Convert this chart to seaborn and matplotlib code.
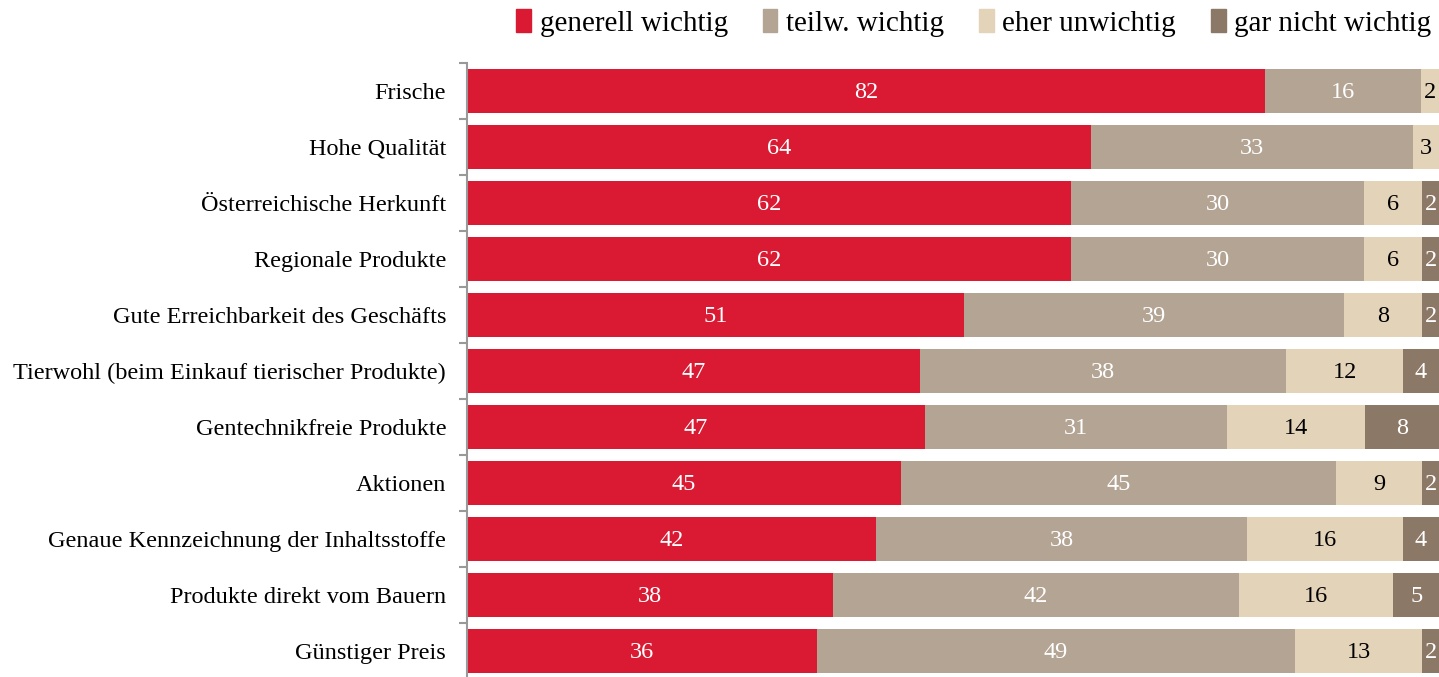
import seaborn as sns
import matplotlib.pyplot as plt
import matplotlib.patches as mpatches
from matplotlib.ticker import FixedLocator
import numpy as np
import pandas as pd

categories = ["Frische", "Hohe Qualität", "Österreichische Herkunft", "Regionale Produkte",
              "Gute Erreichbarkeit des Geschäfts", "Tierwohl (beim Einkauf tierischer Produkte)",
              "Gentechnikfreie Produkte", "Aktionen", "Genaue Kennzeichnung der Inhaltsstoffe",
              "Produkte direkt vom Bauern", "Günstiger Preis"]
series = ["generell wichtig", "teilw. wichtig", "eher unwichtig", "gar nicht wichtig"]

generell = [82.1, 64.2, 62.1, 62.1, 51.1, 46.6, 47.1, 44.6, 42.1, 37.7, 36.0]
teilw = [16.0, 33.1, 30.2, 30.2, 39.1, 37.7, 31.1, 44.8, 38.1, 41.7, 49.2]
eher = [1.9, 2.8, 6.0, 6.0, 8.1, 12.0, 14.2, 8.9, 16.1, 15.9, 13.1]
gar_nicht = [0.0, 0.0, 1.7, 1.7, 1.7, 3.7, 7.7, 1.7, 3.7, 4.7, 1.7]

colors = ["#DA1A32", "#B3A494", "#E3D3B8", "#8C7866"]
text_colors = ["white", "white", "black", "white"]

plt.rcParams["font.family"] = ["Liberation Serif", "DejaVu Serif"]

df = pd.DataFrame({"cat": categories, series[0]: generell, series[1]: teilw,
                   series[2]: eher, series[3]: gar_nicht})
vals = df[series].to_numpy()
cum = vals.cumsum(axis=1)

fig = plt.figure(figsize=(14.39, 6.77), dpi=100)
ax = fig.add_axes([467 / 1439, -0.003, 1 - 467 / 1439, 0.91])

# draw cumulative totals from the widest down so the stack shows through
for i in range(3, -1, -1):
    sns.barplot(x=cum[:, i], y=df["cat"], orient="h", color=colors[i],
                width=0.79, saturation=1, ax=ax, linewidth=0)

for r in range(len(categories)):
    for i in range(4):
        v = vals[r, i]
        if v <= 0:
            continue
        xc = cum[r, i] - v / 2
        ax.text(xc, r + 0.03, f"{v:.0f}", ha="center", va="center", fontsize=17.5,
                color=text_colors[i])

ax.set_xlim(0, 100)
ax.set_ylim(len(categories) - 0.5, -0.5)
ax.set_xlabel("")
ax.set_ylabel("")
ax.xaxis.set_visible(False)
for s in ["top", "right", "bottom"]:
    ax.spines[s].set_visible(False)
ax.spines["left"].set_color("#999999")
ax.spines["left"].set_linewidth(1.5)
ax.tick_params(axis="y", which="major", length=0, labelsize=17.5, pad=15)
ax.yaxis.set_minor_locator(FixedLocator(np.arange(-0.5, len(categories), 1)))
ax.tick_params(axis="y", which="minor", length=6, width=1.5, color="#999999")

handles = [mpatches.Patch(color=c, label=s) for c, s in zip(colors, series)]
fig.legend(handles=handles, loc="upper right", bbox_to_anchor=(1.013, 1.025), ncol=4,
           frameon=False, fontsize=21, handlelength=0.5, handleheight=0.8,
           handletextpad=0.3, columnspacing=1.2)

plt.savefig("out.png", dpi=100)
